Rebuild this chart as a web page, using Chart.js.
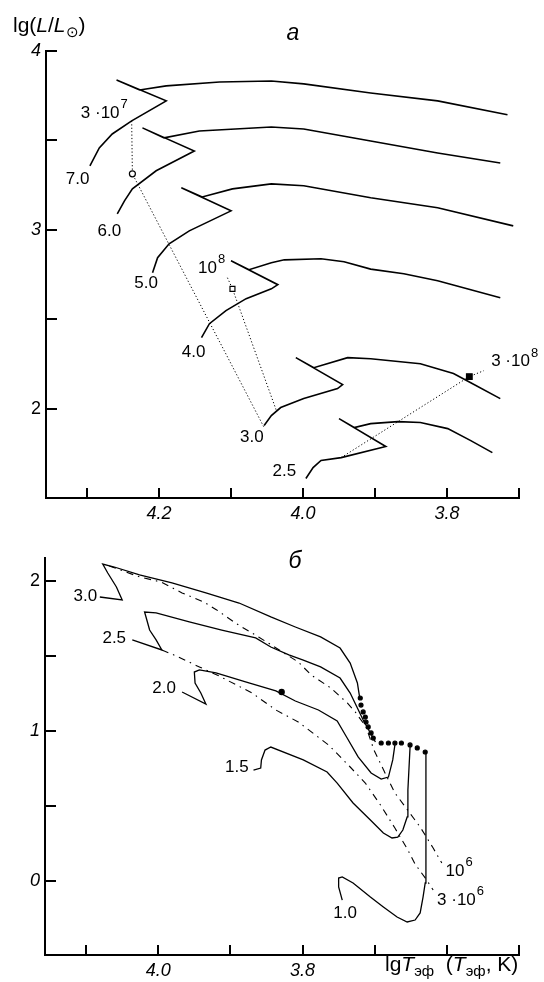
<!DOCTYPE html>
<html>
<head>
<meta charset="utf-8">
<script src="https://cdn.jsdelivr.net/npm/chart.js@4.4.1/dist/chart.umd.min.js"></script>
<style>
  body { margin: 0; background: #fff; }
  canvas { position: absolute; left: 0; }
  #chart_a { top: 0; }
  #chart_b { top: 530px; }
</style>
</head>
<body>
<canvas id="chart_a" width="544" height="530"></canvas>
<canvas id="chart_b" width="544" height="452"></canvas>
<script>
// ---------- panel a : post-main-sequence tracks (lg Teff, lg L/Lsun)
const a_m70_x = [4.296, 4.283, 4.265, 4.238, 4.190, 4.259, 4.227, 4.190, 4.116, 4.044, 3.999, 3.906, 3.813, 3.716];
const a_m70_y = [3.358, 3.458, 3.536, 3.609, 3.721, 3.838, 3.782, 3.805, 3.827, 3.832, 3.816, 3.765, 3.721, 3.643];
const a_m60_x = [4.258, 4.248, 4.237, 4.204, 4.151, 4.223, 4.193, 4.144, 4.044, 3.999, 3.906, 3.813, 3.726];
const a_m60_y = [3.089, 3.162, 3.229, 3.330, 3.441, 3.570, 3.514, 3.553, 3.575, 3.564, 3.497, 3.430, 3.374];
const a_m50_x = [4.209, 4.202, 4.186, 4.158, 4.100, 4.169, 4.140, 4.098, 4.044, 3.999, 3.906, 3.813, 3.708];
const a_m50_y = [2.760, 2.844, 2.922, 2.994, 3.106, 3.235, 3.184, 3.229, 3.257, 3.246, 3.179, 3.123, 3.022];
const a_m40_x = [4.141, 4.130, 4.107, 4.079, 4.044, 4.035, 4.100, 4.075, 4.044, 4.026, 3.975, 3.943, 3.906, 3.860, 3.813, 3.726];
const a_m40_y = [2.397, 2.475, 2.548, 2.615, 2.670, 2.693, 2.827, 2.777, 2.816, 2.832, 2.838, 2.821, 2.780, 2.754, 2.715, 2.620];
const a_m30_x = [4.054, 4.044, 4.031, 3.999, 3.952, 3.945, 4.010, 3.985, 3.938, 3.906, 3.837, 3.791, 3.767, 3.726];
const a_m30_y = [1.905, 1.961, 2.006, 2.056, 2.112, 2.134, 2.285, 2.229, 2.285, 2.279, 2.251, 2.196, 2.145, 2.056];
const a_m25_x = [3.996, 3.986, 3.975, 3.947, 3.885, 3.950, 3.929, 3.906, 3.868, 3.837, 3.799, 3.767, 3.737];
const a_m25_y = [1.609, 1.670, 1.710, 1.726, 1.788, 1.944, 1.894, 1.916, 1.927, 1.922, 1.888, 1.821, 1.754];

// isochrones (dotted) and their markers
const a_iso3e7_x = [4.238, 4.237, 4.054];
const a_iso3e7_y = [3.609, 3.313, 1.894];
const a_iso1e8_x = [4.105, 4.098, 4.037];
const a_iso1e8_y = [2.732, 2.670, 1.989];
const a_iso3e8_x = [3.947, 3.769, 3.749];
const a_iso3e8_y = [1.726, 2.179, 2.212];

const a_notes = ['7.0', '6.0', '5.0', '4.0', '3.0', '2.5', '3 ·10^7', '10^8', '3 ·10^8'];
const a_notes_x = [4.313, 4.269, 4.218, 4.152, 4.071, 4.026, 4.276, 4.127, 3.706];
const a_notes_y = [3.285, 2.994, 2.698, 2.313, 1.838, 1.648, 3.654, 2.785, 2.263];

const a_xTicks = [4.3, 4.2, 4.1, 4.0, 3.9, 3.8, 3.7];
const a_xLabels = ['', '4.2', '', '4.0', '', '3.8', ''];
const a_yTicks = [2, 2.5, 3, 3.5, 4];
const a_yLabels = ['2', '', '3', '', '4'];

// ---------- panel б : pre-main-sequence tracks
const b_m30_x = [4.081, 4.050, 4.058, 4.070, 4.077, 4.061, 4.026, 3.981, 3.934, 3.888, 3.844, 3.810, 3.775, 3.748, 3.734, 3.724, 3.721];
const b_m30_y = [1.893, 1.873, 1.960, 2.053, 2.113, 2.093, 2.040, 1.987, 1.920, 1.853, 1.760, 1.693, 1.627, 1.553, 1.453, 1.320, 1.227];
const b_m25_x = [4.036, 3.995, 4.003, 4.012, 4.017, 4.019, 4.003, 3.957, 3.912, 3.865, 3.844, 3.819, 3.799, 3.775, 3.748, 3.734, 3.724, 3.716, 3.706, 3.699];
const b_m25_y = [1.607, 1.540, 1.607, 1.673, 1.760, 1.793, 1.787, 1.727, 1.673, 1.620, 1.560, 1.507, 1.473, 1.427, 1.353, 1.253, 1.153, 1.073, 0.987, 0.927];
const b_m20_x = [3.967, 3.934, 3.941, 3.949, 3.950, 3.943, 3.920, 3.879, 3.837, 3.810, 3.778, 3.752, 3.739, 3.723, 3.705, 3.691, 3.681, 3.675, 3.672];
const b_m20_y = [1.260, 1.180, 1.253, 1.320, 1.393, 1.407, 1.387, 1.327, 1.267, 1.200, 1.140, 1.067, 0.960, 0.827, 0.720, 0.680, 0.693, 0.807, 0.907];
const b_m15_x = [3.868, 3.858, 3.857, 3.852, 3.844, 3.799, 3.766, 3.752, 3.730, 3.706, 3.688, 3.676, 3.668, 3.661, 3.655, 3.654, 3.651];
const b_m15_y = [0.740, 0.753, 0.807, 0.873, 0.893, 0.807, 0.727, 0.653, 0.520, 0.407, 0.320, 0.287, 0.293, 0.340, 0.427, 0.607, 0.893];
const b_m10_x = [3.745, 3.750, 3.750, 3.745, 3.730, 3.706, 3.688, 3.669, 3.655, 3.644, 3.637, 3.633, 3.630, 3.629, 3.629];
const b_m10_y = [-0.127, -0.040, 0.020, 0.027, -0.013, -0.107, -0.173, -0.240, -0.273, -0.260, -0.213, -0.107, -0.013, 0.053, 0.853];

// birth line (filled dots)
const b_birth_x = [3.720, 3.719, 3.716, 3.713, 3.712, 3.709, 3.705, 3.702, 3.691, 3.681, 3.672, 3.663, 3.651, 3.641, 3.630];
const b_birth_y = [1.220, 1.173, 1.127, 1.093, 1.060, 1.027, 0.987, 0.953, 0.920, 0.920, 0.920, 0.920, 0.907, 0.887, 0.860];

// isochrones 10^6 and 3·10^6 (dash-dot)
const b_iso1e6_x = [4.068, 4.026, 3.996, 3.967, 3.937, 3.919, 3.891, 3.861, 3.806, 3.788, 3.761, 3.738, 3.727, 3.712, 3.701, 3.687, 3.672, 3.637, 3.619, 3.607];
const b_iso1e6_y = [2.100, 2.027, 1.993, 1.920, 1.860, 1.807, 1.713, 1.627, 1.460, 1.373, 1.287, 1.187, 1.127, 1.027, 0.873, 0.733, 0.587, 0.360, 0.220, 0.120];
const b_iso3e6_x = [3.995, 3.975, 3.943, 3.916, 3.870, 3.837, 3.806, 3.764, 3.734, 3.713, 3.692, 3.672, 3.654, 3.644, 3.628, 3.619];
const b_iso3e6_y = [1.540, 1.500, 1.427, 1.367, 1.253, 1.140, 1.060, 0.907, 0.760, 0.653, 0.507, 0.353, 0.207, 0.113, 0.007, -0.060];

const b_notes = ['3.0', '2.5', '2.0', '1.5', '1.0', '10^6', '3 ·10^6'];
const b_notes_x = [4.101, 4.061, 3.992, 3.891, 3.741, 3.583, 3.581];
const b_notes_y = [1.900, 1.620, 1.287, 0.760, -0.213, 0.067, -0.127];

const b_xTicks = [4.1, 4.0, 3.9, 3.8, 3.7, 3.6, 3.5];
const b_xLabels = ['', '4.0', '', '3.8', '', '', ''];
const b_yTicks = [0, 0.5, 1, 1.5, 2];
const b_yLabels = ['0', '', '1', '', '2'];

const FONT = '"Liberation Sans", Arial, Helvetica, sans-serif';

function pts(xs, ys) {
  return xs.map((x, i) => ({ x: x, y: ys[i] }));
}

function track(xs, ys, extra) {
  return Object.assign({
    data: pts(xs, ys), showLine: true, borderColor: '#000', borderWidth: 1.6,
    pointRadius: 0, fill: false, tension: 0
  }, extra || {});
}

function marker(xs, ys, style, r, fillCol) {
  return {
    data: pts(xs, ys), showLine: false, pointStyle: style, pointRadius: r,
    pointBorderColor: '#000', pointBackgroundColor: fillCol, pointBorderWidth: 1.2
  };
}

// text with an optional superscript written as "base^sup"
function drawNote(ctx, text, x, y, size) {
  const parts = text.split('^');
  const supSize = Math.round(size * 0.78);
  ctx.font = size + 'px ' + FONT;
  const w1 = ctx.measureText(parts[0]).width;
  let w2 = 0;
  if (parts[1]) {
    ctx.font = supSize + 'px ' + FONT;
    w2 = ctx.measureText(parts[1]).width + 1;
  }
  const x0 = x - (w1 + w2) / 2;
  ctx.textAlign = 'left';
  ctx.textBaseline = 'middle';
  ctx.font = size + 'px ' + FONT;
  ctx.fillText(parts[0], x0, y);
  if (parts[1]) {
    ctx.font = supSize + 'px ' + FONT;
    ctx.fillText(parts[1], x0 + w1 + 1, y - size * 0.5);
  }
}

// runs of text: [text, flags] where flags may hold 'i' (italic) and 's' (subscript)
function drawRuns(ctx, x, y, size, runs) {
  ctx.textAlign = 'left';
  ctx.textBaseline = 'alphabetic';
  runs.forEach(r => {
    const sub = r[1].indexOf('s') >= 0;
    const it = r[1].indexOf('i') >= 0;
    const sz = sub ? Math.round(size * 0.72) : size;
    ctx.font = (it ? 'italic ' : '') + sz + 'px ' + FONT;
    ctx.fillText(r[0], x, y + (sub ? size * 0.25 : 0));
    x += ctx.measureText(r[0]).width;
  });
}

const inwardTicks = {
  id: 'inwardTicks',
  afterDraw(chart) {
    const { ctx, chartArea: a, scales: { x, y } } = chart;
    ctx.save();
    ctx.strokeStyle = '#000';
    ctx.lineWidth = 2;
    ctx.beginPath();
    x.ticks.forEach(t => {
      const p = Math.round(x.getPixelForValue(t.value));
      ctx.moveTo(p, a.bottom);
      ctx.lineTo(p, a.bottom - 10);
    });
    y.ticks.forEach(t => {
      const p = Math.round(y.getPixelForValue(t.value));
      ctx.moveTo(a.left, p);
      ctx.lineTo(a.left + 11, p);
    });
    ctx.stroke();
    ctx.restore();
  }
};

function notesPlugin(texts, xs, ys, extra) {
  return {
    id: 'notes',
    afterDraw(chart) {
      const { ctx, scales: { x, y } } = chart;
      ctx.save();
      ctx.fillStyle = '#000';
      texts.forEach((t, i) => drawNote(ctx, t, x.getPixelForValue(xs[i]), y.getPixelForValue(ys[i]), 17));
      extra(ctx, chart);
      ctx.restore();
    }
  };
}

function axes(xr, xTicks, xLabels, yr, yTicks, yLabels, yWidth, xHeight) {
  const tickFont = c => ({
    family: FONT, size: 18,
    style: (c.tick && (c.tick.label === '2')) ? 'normal' : 'italic'
  });
  return {
    x: {
      type: 'linear', reverse: true, min: xr[0], max: xr[1],
      afterBuildTicks: s => { s.ticks = xTicks.map(v => ({ value: v })); },
      afterFit: s => { s.height = xHeight; },
      ticks: { callback: (v, i) => xLabels[i], color: '#000', font: tickFont, padding: 5, maxRotation: 0, autoSkip: false },
      grid: { display: true, drawOnChartArea: false, drawTicks: false, color: '#000' },
      border: { display: true, color: '#000', width: 2 }
    },
    y: {
      type: 'linear', min: yr[0], max: yr[1],
      afterBuildTicks: s => { s.ticks = yTicks.map(v => ({ value: v })); },
      afterFit: s => { s.width = yWidth; },
      ticks: { callback: (v, i) => yLabels[i], color: '#000', font: tickFont, padding: 5, autoSkip: false },
      grid: { display: true, drawOnChartArea: false, drawTicks: false, color: '#000' },
      border: { display: true, color: '#000', width: 2 }
    }
  };
}

const dotted = { borderWidth: 1, borderDash: [1.2, 2.2] };
const dashDot = { borderWidth: 1.1, borderDash: [7, 5, 1.5, 5] };

new Chart(document.getElementById('chart_a'), {
  type: 'scatter',
  data: {
    datasets: [
      marker([4.237], [3.313], 'circle', 3, '#fff'),
      marker([4.098], [2.670], 'rect', 3.5, '#fff'),
      marker([3.769], [2.179], 'rect', 4, '#000'),
      track(a_iso3e7_x, a_iso3e7_y, dotted),
      track(a_iso1e8_x, a_iso1e8_y, dotted),
      track(a_iso3e8_x, a_iso3e8_y, dotted),
      track(a_m70_x, a_m70_y),
      track(a_m60_x, a_m60_y),
      track(a_m50_x, a_m50_y),
      track(a_m40_x, a_m40_y),
      track(a_m30_x, a_m30_y),
      track(a_m25_x, a_m25_y)
    ]
  },
  options: {
    responsive: false,
    animation: false,
    layout: { padding: { top: 51, right: 25, left: 0, bottom: 0 } },
    plugins: { legend: { display: false }, tooltip: { enabled: false } },
    scales: axes([3.7, 4.357], a_xTicks, a_xLabels, [1.5, 4.0], a_yTicks, a_yLabels, 46, 32)
  },
  plugins: [inwardTicks, notesPlugin(a_notes, a_notes_x, a_notes_y, ctx => {
    drawRuns(ctx, 13, 32, 21, [['lg(', ''], ['L', 'i'], ['/', ''], ['L', 'i'], ['⊙', 's'], [')', '']]);
    ctx.font = 'italic 23px ' + FONT;
    ctx.textAlign = 'center';
    ctx.textBaseline = 'middle';
    ctx.fillText('a', 293, 34);
  })]
});

new Chart(document.getElementById('chart_b'), {
  type: 'scatter',
  data: {
    datasets: [
      marker(b_birth_x, b_birth_y, 'circle', 2, '#000'),
      marker([3.829], [1.260], 'circle', 2.6, '#000'),
      track(b_iso1e6_x, b_iso1e6_y, dashDot),
      track(b_iso3e6_x, b_iso3e6_y, dashDot),
      track(b_m30_x, b_m30_y, { borderWidth: 1.3 }),
      track(b_m25_x, b_m25_y, { borderWidth: 1.3 }),
      track(b_m20_x, b_m20_y, { borderWidth: 1.3 }),
      track(b_m15_x, b_m15_y, { borderWidth: 1.3 }),
      track(b_m10_x, b_m10_y, { borderWidth: 1.3 })
    ]
  },
  options: {
    responsive: false,
    animation: false,
    layout: { padding: { top: 28, right: 25, left: 0, bottom: 0 } },
    plugins: { legend: { display: false }, tooltip: { enabled: false } },
    scales: axes([3.5, 4.157], b_xTicks, b_xLabels, [-0.493, 2.153], b_yTicks, b_yLabels, 45, 27)
  },
  plugins: [inwardTicks, notesPlugin(b_notes, b_notes_x, b_notes_y, ctx => {
    drawRuns(ctx, 385, 441, 21, [['lg', ''], ['T', 'i'], ['эф', 's'], ['  (', ''], ['T', 'i'], ['эф', 's'], [', K)', '']]);
    ctx.font = 'italic 23px ' + FONT;
    ctx.textAlign = 'center';
    ctx.textBaseline = 'middle';
    ctx.fillText('б', 295, 32);
  })]
});
</script>
</body>
</html>
